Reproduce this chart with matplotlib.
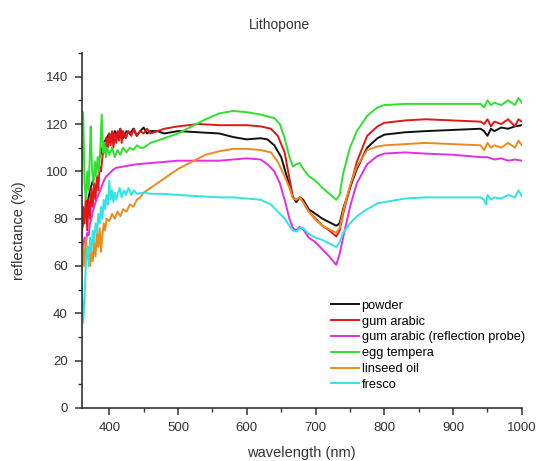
import numpy as np
import matplotlib
matplotlib.use("Agg")
import matplotlib.pyplot as plt
from matplotlib.ticker import MultipleLocator

plt.rcParams['font.family'] = ['Liberation Sans', 'DejaVu Sans']

#-- curve readings (wavelength in nm, reflectance in %)
powder_wl = [360, 364, 368, 372, 376, 380, 384, 388, 392, 396, 400, 404, 408, 412, 416, 420, 425, 430,
             435, 440, 445, 450, 455, 460, 470, 480, 490, 500, 530, 560, 580, 600, 620, 630, 640, 650,
             660, 667, 672, 677, 682, 690, 700, 710, 720, 730, 735, 740, 750, 760, 775, 790, 800, 830,
             860, 900, 940, 945, 950, 955, 960, 970, 980, 990, 1000]
powder = [75, 82, 86, 92, 96, 100, 104, 108, 112, 114, 116, 113, 117, 115, 118, 114, 117, 116,
          118, 115, 117, 118.5, 116, 117, 117, 116, 116.5, 117, 116.5, 116, 114.5, 113.5, 114, 113.5, 111, 106,
          96, 89, 87, 89, 88, 84, 82, 80, 78.5, 77, 78, 84, 93, 101, 110, 114, 115.5, 116.5,
          117, 117.5, 118, 117, 115, 118, 117, 118.5, 118, 119, 119.5]

gum_wl = [360, 362, 364, 366, 368, 370, 372, 374, 376, 378, 380, 382, 384, 386, 388, 390, 392, 394, 396,
          398, 400, 402, 404, 406, 408, 410, 412, 414, 416, 418, 420, 424, 428, 432, 436, 440, 445, 450,
          455, 460, 470, 480, 490, 500, 530, 560, 580, 600, 620, 635, 645, 655, 662, 667, 672, 677, 682,
          690, 700, 710, 720, 730, 735, 740, 750, 760, 775, 790, 800, 830, 860, 900, 940, 945, 950, 955,
          960, 970, 980, 990, 995, 1000]
gum = [70, 85, 78, 90, 75, 88, 80, 93, 85, 95, 88, 98, 92, 102, 100, 106, 110, 108, 114,
       110, 116, 111, 117, 110, 116, 112, 117, 113, 118, 112, 117, 114, 117, 115, 118, 115, 117, 116,
       118, 116, 117, 118, 118.5, 119, 120, 119.5, 119.5, 119.5, 119, 118, 115, 108, 97, 89, 88, 89, 87,
       83, 80, 77, 75, 72.5, 75, 82, 93, 104, 115, 119, 120.5, 121.5, 122, 121.5, 121, 120, 122, 119,
       121, 120, 122, 119, 122, 121]

probe_wl = [360, 362, 364, 366, 368, 370, 372, 374, 376, 378, 380, 384, 388, 392, 396, 400, 405, 410,
            420, 430, 440, 460, 480, 500, 530, 560, 580, 600, 620, 630, 640, 648, 655, 662, 667, 672,
            677, 682, 690, 700, 710, 720, 730, 735, 740, 750, 760, 775, 790, 800, 830, 860, 900, 940,
            950, 960, 970, 980, 990, 1000]
probe = [70, 68, 72, 70, 74, 73, 78, 80, 83, 85, 87, 90, 93, 96, 98, 99, 100.5, 101.5,
         102, 102.5, 103, 103.5, 104, 104.5, 104.5, 104.5, 105, 105.5, 105, 103, 100, 95, 88, 80, 76, 75,
         76.5, 75.5, 72, 70, 67, 64, 60.5, 65, 72, 85, 95, 103, 106.5, 107.5, 108, 107.5, 107, 106,
         106, 105, 105.5, 104.5, 105, 104.5]

egg_wl = [358, 360, 362, 364, 366, 368, 370, 372, 373, 375, 377, 379, 381, 383, 385, 387, 389, 391, 393,
          395, 397, 400, 404, 408, 412, 416, 420, 425, 430, 435, 440, 445, 450, 460, 470, 480, 490, 500,
          520, 540, 560, 580, 600, 620, 640, 648, 655, 662, 667, 672, 677, 682, 690, 700, 710, 720, 730,
          735, 740, 750, 760, 775, 790, 800, 830, 860, 900, 940, 945, 950, 955, 960, 970, 980, 990, 995,
          1000]
egg = [95, 100, 125, 95, 88, 100, 92, 110, 119, 100, 95, 104, 98, 106, 100, 110, 124, 108, 112,
       106, 110, 107, 110, 106, 109, 107, 110, 108, 110, 109, 111, 110, 110, 112, 113, 114, 115, 116,
       119, 122, 124.5, 125.5, 125, 124, 122.5, 120, 114, 106, 102, 103, 103.5, 101, 98, 96, 93, 90.5, 88,
       90, 99, 110, 117, 123.5, 127, 128, 128.5, 128.5, 128.5, 128.5, 127, 130, 128, 129, 128, 130, 128, 131,
       129]

oil_wl = [358, 360, 362, 364, 366, 368, 370, 372, 374, 376, 378, 380, 382, 384, 386, 388, 390, 392, 394,
          396, 400, 404, 408, 412, 416, 420, 425, 430, 435, 440, 445, 450, 460, 470, 480, 490, 500, 520,
          540, 560, 580, 600, 620, 635, 645, 655, 662, 667, 672, 677, 682, 690, 700, 710, 720, 730, 735,
          740, 750, 760, 775, 790, 800, 830, 860, 900, 940, 945, 950, 955, 960, 970, 980, 990, 995, 1000]
oil = [40, 55, 68, 60, 72, 64, 68, 60, 66, 62, 70, 64, 74, 68, 76, 66, 73, 78, 75,
       80, 79, 82, 80, 83, 81, 84, 83, 86, 85, 88, 89, 91, 93, 95, 97, 99, 101, 104,
       107, 108.5, 109.5, 109.5, 109, 108, 104, 98, 93, 88.5, 88, 89, 87, 83, 79.5, 77, 75.5, 74, 76,
       83, 94, 102, 109, 110.5, 111, 111.5, 112, 111.5, 111, 109, 112, 110, 111, 110, 112, 110, 113, 111]

fresco_wl = [358, 360, 362, 364, 366, 368, 370, 372, 374, 376, 378, 380, 382, 384, 386, 388, 390, 392,
             394, 396, 398, 400, 402, 404, 406, 408, 410, 412, 415, 418, 421, 424, 428, 432, 436, 440,
             450, 460, 480, 500, 530, 560, 580, 600, 620, 635, 645, 655, 662, 667, 672, 677, 682, 690,
             700, 710, 720, 730, 735, 740, 750, 760, 775, 790, 800, 830, 860, 900, 940, 945, 948, 950,
             955, 960, 970, 980, 990, 995, 1000]
fresco = [40, 55, 36, 45, 62, 68, 60, 72, 66, 75, 70, 78, 74, 82, 78, 85, 80, 88,
          84, 90, 86, 96, 88, 92, 87, 91, 88, 90, 93, 89, 92, 90, 93, 90, 92, 90.5,
          91, 90.5, 90.5, 90, 89.5, 89, 89, 88.5, 88, 86, 83, 80, 77, 75, 74.5, 76, 76, 73.5,
          72, 71, 69.5, 68, 70, 74, 78, 81, 84, 86.5, 87, 88.5, 89, 89, 89, 88, 86, 90,
          88, 89, 88.5, 90, 89, 92, 89.5]

series = [
    ("powder", powder_wl, powder, "#111111"),
    ("gum arabic", gum_wl, gum, "#e01818"),
    ("gum arabic (reflection probe)", probe_wl, probe, "#e030e0"),
    ("egg tempera", egg_wl, egg, "#30e030"),
    ("linseed oil", oil_wl, oil, "#ee8a1c"),
    ("fresco", fresco_wl, fresco, "#30e4e4"),
]

fig = plt.figure(figsize=(5.38, 4.61), dpi=100)
ax = fig.add_axes([0.152, 0.115, 0.818, 0.77])

for label, wl, val, col in series:
    ax.plot(wl, val, color=col, lw=1.4, label=label)

ax.set_xlim(360, 1000)
ax.set_ylim(0, 150)
ax.xaxis.set_major_locator(MultipleLocator(100))
ax.xaxis.set_minor_locator(MultipleLocator(50))
ax.yaxis.set_major_locator(MultipleLocator(20))
ax.yaxis.set_minor_locator(MultipleLocator(10))
ax.set_yticks(np.arange(0, 141, 20))
ax.set_xticks(np.arange(400, 1001, 100))

for s in ["top", "right"]:
    ax.spines[s].set_visible(False)
for s in ["left", "bottom"]:
    ax.spines[s].set_linewidth(1.2)
    ax.spines[s].set_color("#333333")
ax.tick_params(which="major", direction="out", length=5, width=1.1, color="#333333",
               labelsize=9.5, labelcolor="#333333", pad=5)
ax.tick_params(which="minor", direction="out", length=3, width=1.0, color="#333333")

ax.set_xlabel("wavelength (nm)", fontsize=10.5, color="#333333", labelpad=9)
ax.set_ylabel("reflectance (%)", fontsize=10.5, color="#333333", labelpad=14)
ax.set_title("Lithopone", fontsize=10, color="#333333", pad=17, x=0.45)

ax.legend(loc="upper left", bbox_to_anchor=(0.566, 0.305), frameon=False, fontsize=9.2,
          handlelength=2.2, handletextpad=0.2, labelspacing=0.3, borderpad=0, borderaxespad=0)

fig.savefig("out.png", dpi=100)
